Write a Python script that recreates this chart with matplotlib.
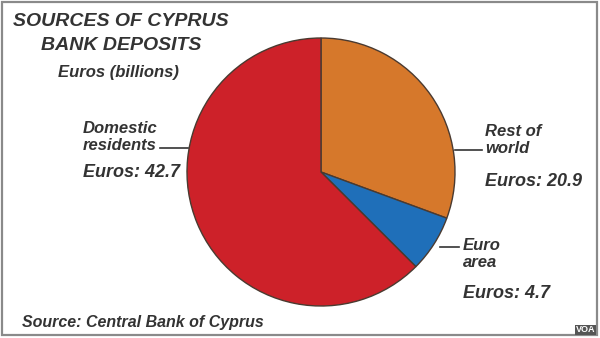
import matplotlib
matplotlib.use("Agg")
import matplotlib.pyplot as plt
from matplotlib.patches import Rectangle

labels = ["Rest of\nworld", "Euro\narea", "Domestic\nresidents"]
values = [20.9, 4.7, 42.7]
amounts = ["Euros: 20.9", "Euros: 4.7", "Euros: 42.7"]
colors = ["#D6782B", "#1F6FB9", "#CD2129"]

W, H = 600, 338
fig = plt.figure(figsize=(6, 3.38), dpi=100)
fig.patch.set_facecolor("white")
fig.add_artist(Rectangle((2 / W, 3 / H), 595 / W, 333 / H, transform=fig.transFigure,
                         fill=False, edgecolor="#8a8a8a", linewidth=1.6))

# pie centred at (321, 172) px, radius 134 px
cx, cy, r = 321, 172, 134
ax = fig.add_axes([(cx - r) / W, (H - cy - r) / H, 2 * r / W, 2 * r / H])
ax.pie(values, colors=colors, startangle=90, counterclock=False,
       wedgeprops=dict(edgecolor="#4a3a30", linewidth=1.0))
ax.set_xlim(-1, 1)
ax.set_ylim(-1, 1)
ax.set_aspect("equal")
ax.axis("off")

txt = dict(family="Liberation Sans", style="italic", weight="bold", color="#333333")


def px(x, y):
    return x / W, 1 - y / H


fig.text(*px(121, 22), "SOURCES OF CYPRUS", ha="center", va="center", fontsize=14, **txt)
fig.text(*px(121, 45), "BANK DEPOSITS", ha="center", va="center", fontsize=14, **txt)
fig.text(*px(118, 72), "Euros (billions)", ha="center", va="center", fontsize=12, **txt)

# label positions (px): text anchor, leader line
spots = [
    ((485, 140), (485, 182), (455, 482, 150)),
    ((463, 254), (463, 294), (440, 459, 247)),
    ((83, 137), (83, 172), (160, 188, 148)),
]
for lab, amt, ((tx, ty), (ax2, ay2), (x0, x1, ly)) in zip(labels, amounts, spots):
    fig.text(*px(tx, ty), lab, ha="left", va="center", fontsize=12,
             linespacing=1.1, **txt)
    fig.text(*px(ax2, ay2), amt, ha="left", va="center", fontsize=13, **txt)
    fig.add_artist(plt.Line2D([x0 / W, x1 / W], [1 - ly / H, 1 - ly / H],
                              transform=fig.transFigure, color="#333333", linewidth=1.2))

fig.text(*px(22, 322), "Source: Central Bank of Cyprus", ha="left", va="center",
         fontsize=11.5, **txt)
fig.text(*px(595, 330), "VOA", ha="right", va="center", fontsize=6.5,
         family="Liberation Sans", weight="bold", color="white",
         bbox=dict(boxstyle="square,pad=0.1", facecolor="#555555", edgecolor="none"))

fig.savefig("out.png", dpi=100)
